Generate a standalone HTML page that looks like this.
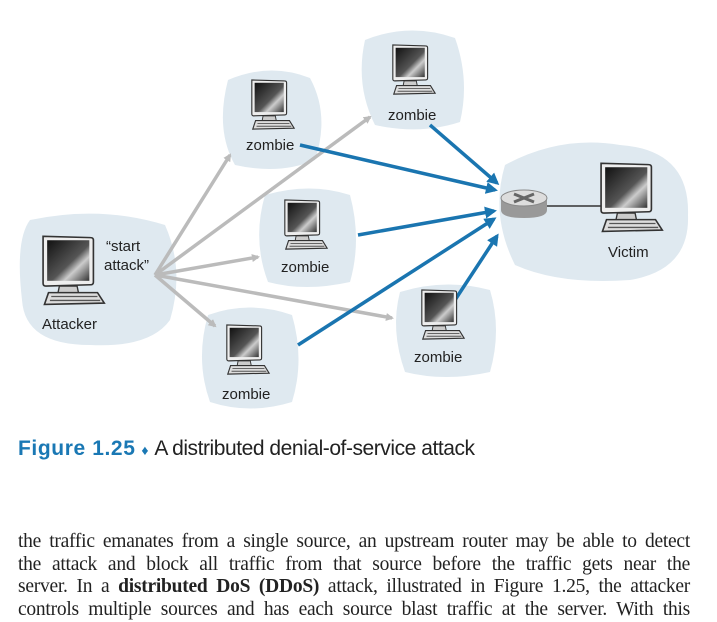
<!DOCTYPE html>
<html><head><style>
html,body{margin:0;padding:0;background:#fff;}
body{width:717px;height:609px;overflow:hidden;position:relative;}
.cap{position:absolute;left:18px;top:437px;font-family:"Liberation Sans",sans-serif;font-size:21px;color:#222;white-space:nowrap;}
.cap b{color:#1a78b4;letter-spacing:0.6px;}
.cap span.t{letter-spacing:-0.45px;}
.body{position:absolute;left:18px;top:531px;width:672px;font-family:"Liberation Serif",serif;font-size:19.5px;line-height:22.7px;color:#222;letter-spacing:-0.25px;}
.body p{margin:0;text-align:justify;text-align-last:justify;white-space:nowrap;}
</style></head><body>
<svg width="717" height="430" style="position:absolute;left:0;top:0" font-family="Liberation Sans, sans-serif">
<defs>
<linearGradient id="scr" x1="0" y1="0" x2="1" y2="1"><stop offset="0" stop-color="#111"/><stop offset="0.55" stop-color="#555"/><stop offset="0.7" stop-color="#ccc"/><stop offset="1" stop-color="#333"/></linearGradient>
<symbol id="mon" viewBox="0 0 50 55" preserveAspectRatio="none">
<path d="M3 1 L38 2 Q40 2 40 4 L40 36 Q40 38 38 38 L5 39 Q3 39 3 37 Z" fill="#eee" stroke="#333" stroke-width="1.2"/>
<rect x="6" y="4" width="31" height="31" fill="url(#scr)"/>
<path d="M15 39 L28 39 L29 44 L14 44 Z" fill="#ccc" stroke="#333" stroke-width="1"/>
<path d="M7 44 L43 44 L48 52 L4 53 Z" fill="#ddd" stroke="#333" stroke-width="1.2"/>
<line x1="9" y1="47" x2="43" y2="47" stroke="#555"/><line x1="8" y1="50" x2="45" y2="50" stroke="#555"/>
</symbol>
<marker id="ag" markerWidth="8" markerHeight="8" refX="6" refY="4" orient="auto" markerUnits="userSpaceOnUse"><path d="M0 0 L8 4 L0 8 Z" fill="#bbb"/></marker>
<marker id="ab" markerWidth="12" markerHeight="12" refX="9" refY="6" orient="auto" markerUnits="userSpaceOnUse"><path d="M0 0 L12 6 L0 12 Z" fill="#1a75b0"/></marker>
</defs>
<g fill="#dfe9f0">
<path d="M30 220 Q100 205 165 225 Q185 270 170 320 Q150 348 90 345 Q25 345 22 300 Q15 240 30 220 Z"/>
<path d="M228 80 Q270 62 310 78 Q330 115 315 160 Q280 175 235 165 Q215 130 228 80 Z"/>
<path d="M365 40 Q410 22 455 38 Q470 80 460 122 Q420 135 375 125 Q355 85 365 40 Z"/>
<path d="M265 195 Q310 182 350 195 Q362 240 350 282 Q305 292 268 282 Q252 240 265 195 Z"/>
<path d="M400 292 Q445 278 490 290 Q502 330 490 372 Q445 382 405 372 Q390 330 400 292 Z"/>
<path d="M208 315 Q250 300 292 315 Q305 360 292 402 Q250 415 210 402 Q195 360 208 315 Z"/>
<path d="M505 165 Q560 135 620 145 Q690 150 688 215 Q690 270 630 280 Q560 285 515 265 Q490 215 505 165 Z"/>
</g>
<g stroke="#bbb" stroke-width="3.5" fill="none" marker-end="url(#ag)">
<line x1="155" y1="275" x2="230" y2="155"/>
<line x1="155" y1="275" x2="370" y2="117"/>
<line x1="155" y1="275" x2="258" y2="257"/>
<line x1="155" y1="275" x2="215" y2="326"/>
<line x1="155" y1="275" x2="392" y2="318"/>
</g>
<g stroke="#1a75b0" stroke-width="3.5" fill="none" marker-end="url(#ab)">
<line x1="300" y1="145" x2="495" y2="190"/>
<line x1="430" y1="125" x2="497" y2="183"/>
<line x1="358" y1="235" x2="494" y2="211"/>
<line x1="455" y1="300" x2="497" y2="236"/>
<line x1="298" y1="345" x2="494" y2="219"/>
</g>
<line x1="545" y1="206" x2="605" y2="206" stroke="#333" stroke-width="1.5"/>
<g>
<path d="M501 198 L501 210 Q501 218 524 218 Q547 218 547 210 L547 198 Z" fill="#999"/>
<ellipse cx="524" cy="198" rx="23" ry="8" fill="#ddd" stroke="#888"/>
<path d="M514 194 L534 202 M534 194 L514 202" stroke="#666" stroke-width="3"/>
</g>
<use href="#mon" x="39" y="235" width="68" height="72"/>
<use href="#mon" x="249" y="79" width="47" height="52"/>
<use href="#mon" x="390" y="44" width="47" height="52"/>
<use href="#mon" x="282" y="199" width="47" height="52"/>
<use href="#mon" x="419" y="289" width="47" height="52"/>
<use href="#mon" x="224" y="324" width="47" height="52"/>
<use href="#mon" x="597" y="162" width="68" height="72"/>
<g font-size="15" fill="#222">
<text x="106" y="251">“start</text>
<text x="104" y="270">attack”</text>
<text x="42" y="329">Attacker</text>
<text x="246" y="150">zombie</text>
<text x="388" y="120">zombie</text>
<text x="281" y="272">zombie</text>
<text x="414" y="362">zombie</text>
<text x="222" y="399">zombie</text>
<text x="608" y="257">Victim</text>
</g>
</svg>
<div class="cap"><b>Figure 1.25</b> <span style="color:#1a78b4;font-size:14px">♦</span> <span class="t">A distributed denial-of-service attack</span></div>
<div class="body">
<p>the traffic emanates from a single source, an upstream router may be able to detect</p>
<p>the attack and block all traffic from that source before the traffic gets near the</p>
<p>server. In a <b>distributed DoS (DDoS)</b> attack, illustrated in Figure 1.25, the attacker</p>
<p>controls multiple sources and has each source blast traffic at the server. With this</p>
</div>
</body></html>
